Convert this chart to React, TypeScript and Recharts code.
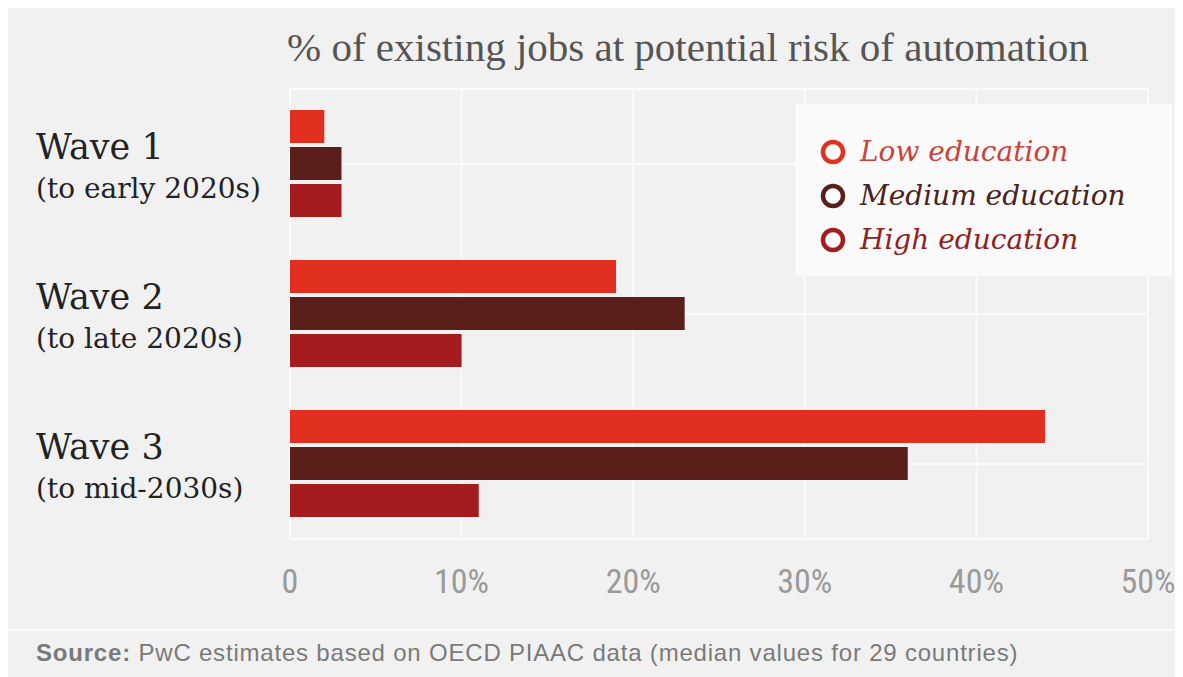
import React from 'react';
import { BarChart, Bar, XAxis, YAxis, CartesianGrid, Legend } from 'recharts';

const waves = ['Wave 1', 'Wave 2', 'Wave 3'];
const waveSubtitles = ['(to early 2020s)', '(to late 2020s)', '(to mid-2030s)'];
const lowEducation = [2, 19, 44];
const mediumEducation = [3, 23, 36];
const highEducation = [3, 10, 11];
const xTicks = [0, 10, 20, 30, 40, 50];
const seriesNames = ['Low education', 'Medium education', 'High education'];
const seriesKeys = ['low', 'medium', 'high'];
const barColors = ['#e1301f', '#5b1f1b', '#a41c1d'];
const legendTextColors = ['#c9433a', '#4a2222', '#8e2224'];

const data = waves.map((w, i) => ({
  wave: w,
  sub: waveSubtitles[i],
  low: lowEducation[i],
  medium: mediumEducation[i],
  high: highEducation[i],
}));

const serif = '"DejaVu Serif", "Liberation Serif", serif';

const YTick = (props: any) => {
  const { y, payload, index } = props;
  return (
    <g>
      <text x={28} y={y - 5} fontFamily={serif} fontSize={35} fill="#222">
        {payload.value}
      </text>
      <text x={28} y={y + 34} fontFamily={serif} fontSize={28} fill="#222">
        {waveSubtitles[index]}
      </text>
    </g>
  );
};

const XTick = (props: any) => {
  const { x, y, payload } = props;
  return (
    <text
      x={x}
      y={y}
      dy={26}
      textAnchor="middle"
      fontFamily='"Liberation Sans Narrow", "Roboto Condensed", "Liberation Sans", sans-serif'
      fontSize={34}
      fill="#9a9a9a"
    >
      {payload.value === 0 ? '0' : `${payload.value}%`}
    </text>
  );
};

const LegendContent = () => (
  <div
    style={{
      width: 377,
      height: 172,
      background: '#fafafa',
      boxSizing: 'border-box',
      paddingTop: 26,
      paddingLeft: 24,
    }}
  >
    {seriesNames.map((n, i) => (
      <div key={n} style={{ display: 'flex', alignItems: 'center', height: 44 }}>
        <svg width={28} height={28} style={{ marginRight: 13 }}>
          <circle cx={14} cy={14} r={10} fill="#fff" stroke={barColors[i]} strokeWidth={4.5} />
        </svg>
        <span
          style={{
            fontFamily: serif,
            fontStyle: 'italic',
            fontSize: 28,
            color: legendTextColors[i],
            lineHeight: '44px',
          }}
        >
          {n}
        </span>
      </div>
    ))}
  </div>
);

export default function App() {
  return (
    <div
      style={{
        position: 'relative',
        marginTop: -7,
        width: 1175,
        height: 676,
        background: '#f1f1f1',
        overflow: 'hidden',
      }}
    >
      <div
        style={{
          position: 'absolute',
          left: 279,
          top: 18,
          fontFamily: '"Liberation Serif", serif',
          fontSize: 41,
          color: '#555',
          whiteSpace: 'nowrap',
          lineHeight: '56px',
        }}
      >
        % of existing jobs at potential risk of automation
      </div>
      <BarChart
        width={1175}
        height={600}
        data={data}
        layout="vertical"
        margin={{ top: 88, right: 35, left: 0, bottom: 22 }}
        barCategoryGap={21}
        barGap={4}
      >
        <CartesianGrid stroke="#fbfbfb" strokeWidth={2} />
        <XAxis
          type="number"
          domain={[0, 50]}
          ticks={xTicks}
          axisLine={false}
          tickLine={false}
          tick={<XTick />}
          height={40}
          tickSize={20}
          tickMargin={8}
          interval={0}
        />
        <YAxis
          type="category"
          dataKey="wave"
          width={282}
          axisLine={false}
          tickLine={false}
          tick={<YTick />}
          interval={0}
        />
        <Legend
          layout="horizontal"
          verticalAlign="middle"
          align="center"
          content={<LegendContent />}
          wrapperStyle={{ position: 'absolute', left: 787, top: 103, width: 377, height: 172 }}
        />
        {seriesKeys.map((k, i) => (
          <Bar key={k} dataKey={k} name={seriesNames[i]} fill={barColors[i]} isAnimationActive={false} />
        ))}
      </BarChart>
      <div
        style={{ position: 'absolute', left: 0, top: 628, width: 1175, height: 2, background: '#fafafa' }}
      />
      <div
        style={{
          position: 'absolute',
          left: 28,
          top: 640,
          fontFamily: '"Liberation Sans", Arial, sans-serif',
          fontSize: 24,
          letterSpacing: 0.8,
          color: '#7a7a7a',
          whiteSpace: 'nowrap',
          lineHeight: '24px',
        }}
      >
        <b>Source:</b> PwC estimates based on OECD PIAAC data (median values for 29 countries)
      </div>
    </div>
  );
}
